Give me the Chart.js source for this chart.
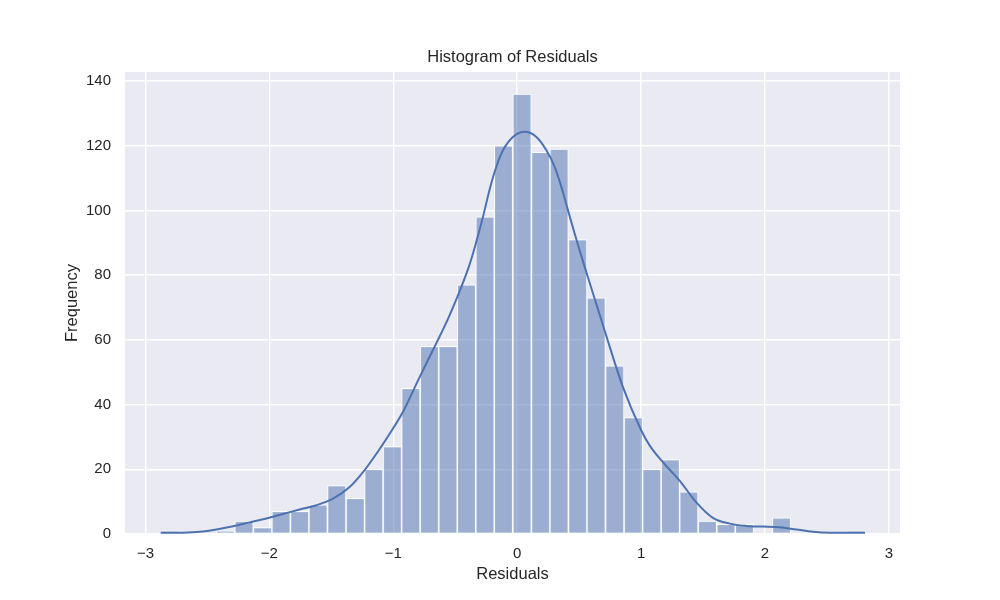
<!DOCTYPE html>
<html>
<head>
<meta charset="utf-8">
<title>Histogram of Residuals</title>
<script src="https://cdn.jsdelivr.net/npm/chart.js@4"></script>
<style>
  html, body { margin: 0; padding: 0; background: #ffffff; }
  canvas { display: block; }
</style>
</head>
<body>
<canvas id="chart" width="1000" height="600"></canvas>
<script>
// histogram bins (centres) and counts
const binCenters = [
  -2.802, -2.653, -2.503, -2.354, -2.204, -2.054, -1.905, -1.755, -1.606, -1.456,
  -1.306, -1.157, -1.007, -0.858, -0.708, -0.558, -0.409, -0.259, -0.110, 0.040,
  0.190, 0.339, 0.489, 0.638, 0.788, 0.938, 1.087, 1.237, 1.386, 1.536,
  1.686, 1.835, 1.985, 2.134, 2.284, 2.434, 2.583, 2.733
];
const counts = [
  1, 0, 0, 1, 4, 2, 7, 7, 9, 15,
  11, 20, 27, 45, 58, 58, 77, 98, 120, 136,
  118, 119, 91, 73, 52, 36, 20, 23, 13, 4,
  3, 3, 0, 5, 0, 0, 0, 1
];

// KDE curve, sampled by eye (count scale)
const kdeX = [
  -2.877, -2.697, -2.535, -2.427, -2.293, -2.159, -2.024, -1.890, -1.755, -1.620,
  -1.486, -1.352, -1.244, -1.136, -1.029, -0.921, -0.787, -0.652, -0.558, -0.491,
  -0.391, -0.343, -0.276, -0.222, -0.168, -0.114, -0.034, 0.061, 0.155, 0.236,
  0.303, 0.357, 0.410, 0.464, 0.504, 0.558, 0.706, 0.854, 1.002, 1.069,
  1.176, 1.311, 1.446, 1.580, 1.715, 1.849, 1.983, 2.118, 2.253, 2.387,
  2.522, 2.808
];
const kdeY = [
  0.35, 0.4, 0.8, 1.4, 2.4, 3.6, 4.8, 6.2, 7.6, 8.9,
  10.9, 14.5, 19.1, 24.8, 31.0, 37.8, 48.5, 59.0, 66.5, 72.5,
  82.5, 88.5, 98.0, 106.5, 113.5, 118.6, 122.7, 124.3, 122.7, 118.6,
  113.5, 107.3, 100.1, 92.9, 87.7, 81.0, 62.9, 45.4, 32.0, 27.4,
  22.2, 16.5, 9.8, 5.0, 3.2, 2.5, 2.3, 2.1, 1.4, 0.7,
  0.4, 0.35
];

const xTicks = [-3, -2, -1, 0, 1, 2, 3];
const yTicks = [0, 20, 40, 60, 80, 100, 120, 140];

const textColor = "#262626";
const fontFamily = "'Liberation Sans', Arial, sans-serif";

function fmt(v) {
  return v < 0 ? "\u2212" + Math.abs(v) : String(v);
}

// figure background + grey axes face
const backgroundPlugin = {
  id: "background",
  beforeDraw(chart) {
    const { ctx, chartArea } = chart;
    ctx.save();
    ctx.fillStyle = "#ffffff";
    ctx.fillRect(0, 0, chart.width, chart.height);
    ctx.fillStyle = "#eaeaf2";
    ctx.fillRect(chartArea.left, chartArea.top,
      chartArea.right - chartArea.left, chartArea.bottom - chartArea.top);
    ctx.restore();
  },
};

new Chart(document.getElementById("chart"), {
  type: "bar",
  data: {
    datasets: [
      {
        type: "line",
        label: "KDE",
        data: kdeX.map((x, i) => ({ x: x, y: kdeY[i] })),
        borderColor: "#4c72b0",
        borderWidth: 2,
        pointRadius: 0,
        fill: false,
        cubicInterpolationMode: "monotone",
        order: 1,
      },
      {
        type: "bar",
        label: "Frequency",
        data: binCenters.map((x, i) => ({ x: x, y: counts[i] })),
        backgroundColor: "rgba(76, 114, 176, 0.5)",
        borderColor: "#ffffff",
        borderWidth: 1,
        borderSkipped: false,
        barPercentage: 1,
        categoryPercentage: 1,
        grouped: false,
        order: 2,
      },
    ],
  },
  options: {
    responsive: false,
    animation: false,
    devicePixelRatio: 1,
    layout: { padding: { left: 0, right: 100, top: 0, bottom: 0 } },
    plugins: {
      legend: { display: false },
      tooltip: { enabled: false },
      title: {
        display: true,
        text: "Histogram of Residuals",
        fullSize: false,
        color: textColor,
        font: { family: fontFamily, size: 16.5, weight: "normal" },
        padding: { top: 48, bottom: 4.2 },
      },
    },
    scales: {
      x: {
        type: "linear",
        min: -3.165,
        max: 3.09,
        offset: false,
        grid: { color: "#ffffff", lineWidth: 1.4, drawTicks: false, offset: false },
        border: { display: false },
        afterBuildTicks(scale) {
          scale.ticks = xTicks.map((v) => ({ value: v }));
        },
        afterFit(scale) {
          scale.height = 66;
        },
        ticks: {
          color: textColor,
          font: { family: fontFamily, size: 15 },
          padding: 11,
          maxRotation: 0,
          autoSkip: false,
          callback: (v) => fmt(v),
        },
        title: {
          display: true,
          text: "Residuals",
          color: textColor,
          font: { family: fontFamily, size: 16.5 },
          padding: { top: 4, bottom: 16 },
        },
      },
      y: {
        type: "linear",
        min: 0,
        max: 142.8,
        grid: { color: "#ffffff", lineWidth: 1.4, drawTicks: false },
        border: { display: false },
        afterBuildTicks(scale) {
          scale.ticks = yTicks.map((v) => ({ value: v }));
        },
        afterFit(scale) {
          scale.width = 125;
        },
        ticks: {
          color: textColor,
          font: { family: fontFamily, size: 15 },
          padding: 14,
          callback: (v) => fmt(v),
        },
        title: {
          display: true,
          text: "Frequency",
          color: textColor,
          font: { family: fontFamily, size: 16.5 },
          padding: { top: 63, bottom: 4 },
        },
      },
    },
  },
  plugins: [backgroundPlugin],
});
</script>
</body>
</html>
